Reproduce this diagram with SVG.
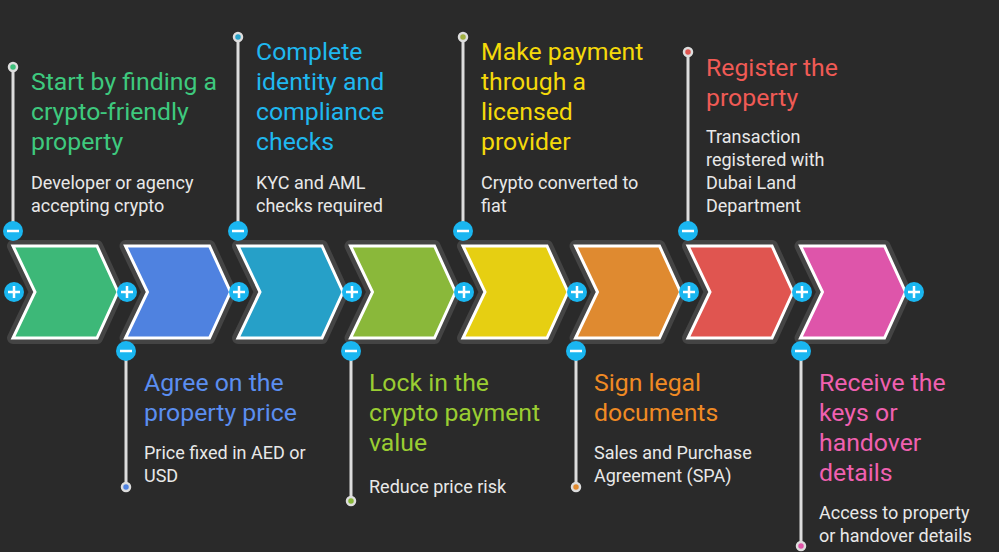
<svg xmlns="http://www.w3.org/2000/svg" width="999" height="552" viewBox="0 0 999 552">
<defs>
<style>
.t{font-family:Roboto,"Liberation Sans",sans-serif;font-size:24.8px;stroke:#2a2a2a;stroke-width:4px;paint-order:stroke;stroke-linejoin:round}
.d{font-family:Roboto,"Liberation Sans",sans-serif;font-size:18px;fill:#e8e8e8;stroke:#2a2a2a;stroke-width:3px;paint-order:stroke}
.ch{stroke:#fff;stroke-width:3;stroke-linejoin:miter}
.halo{fill:none;stroke:#444;stroke-width:12;stroke-linejoin:round}
.vl{stroke:#ddd;stroke-width:3}
.btn{fill:#1ab6f0}
.sym{stroke:#fff;stroke-width:2.5}
.dot{stroke:#ddd;stroke-width:2.5}
</style>
<symbol id="chev" overflow="visible"><path d="M0,0 H84 L105,46 L84,92 H0 L22,46 Z"/></symbol>
</defs>
<rect width="999" height="552" fill="#2a2a2a"/>
<g id="connectors">
<line class="vl" x1="13" y1="67" x2="13" y2="231"/>
<line class="vl" x1="238" y1="37" x2="238" y2="231"/>
<line class="vl" x1="463" y1="37" x2="463" y2="231"/>
<line class="vl" x1="688" y1="52" x2="688" y2="231"/>
<line class="vl" x1="126" y1="351" x2="126" y2="487"/>
<line class="vl" x1="351" y1="351" x2="351" y2="501"/>
<line class="vl" x1="576" y1="351" x2="576" y2="487"/>
<line class="vl" x1="801" y1="351" x2="801" y2="546"/>
<g class="dot">
<circle cx="13" cy="67" r="4" fill="#3dbf7a"/>
<circle cx="238" cy="37" r="4" fill="#29a3c9"/>
<circle cx="463" cy="37" r="4" fill="#a0b040"/>
<circle cx="688" cy="52" r="4" fill="#e05550"/>
<circle cx="126" cy="487" r="4" fill="#4f82e0"/>
<circle cx="351" cy="501" r="4" fill="#8ab83a"/>
<circle cx="576" cy="487" r="4" fill="#e08a30"/>
<circle cx="801" cy="546" r="4" fill="#e055a8"/>
</g>
</g>
<g id="chevrons">
<path class="halo" d="M13,246 H97 L118,292 L97,338 H13 L35,292 Z"/>
<path class="halo" d="M125.5,246 H209.5 L230.5,292 L209.5,338 H125.5 L147.5,292 Z"/>
<path class="halo" d="M238,246 H322 L343,292 L322,338 H238 L260,292 Z"/>
<path class="halo" d="M350.5,246 H434.5 L455.5,292 L434.5,338 H350.5 L372.5,292 Z"/>
<path class="halo" d="M463,246 H547 L568,292 L547,338 H463 L485,292 Z"/>
<path class="halo" d="M575.5,246 H659.5 L680.5,292 L659.5,338 H575.5 L597.5,292 Z"/>
<path class="halo" d="M688,246 H772 L793,292 L772,338 H688 L710,292 Z"/>
<path class="halo" d="M800.5,246 H884.5 L905.5,292 L884.5,338 H800.5 L822.5,292 Z"/>
</g>
<g id="n1"><use href="#chev" x="13" y="246" class="ch" fill="#3db878"/>
<text class="t" fill="#3ec97e"><tspan x="31" y="90">Start by finding a</tspan><tspan x="31" y="120">crypto-friendly</tspan><tspan x="31" y="150">property</tspan></text>
<text class="d"><tspan x="31" y="189">Developer or agency</tspan><tspan x="31" y="212">accepting crypto</tspan></text></g>
<g id="n2"><use href="#chev" x="125.5" y="246" class="ch" fill="#4f82e0"/>
<text class="t" fill="#5b8ef0"><tspan x="144" y="391">Agree on the</tspan><tspan x="144" y="421">property price</tspan></text>
<text class="d"><tspan x="144" y="459">Price fixed in AED or</tspan><tspan x="144" y="482">USD</tspan></text></g>
<g id="n3"><use href="#chev" x="238" y="246" class="ch" fill="#26a0c8"/>
<text class="t" fill="#1fb8f0"><tspan x="256" y="60">Complete</tspan><tspan x="256" y="90">identity and</tspan><tspan x="256" y="120">compliance</tspan><tspan x="256" y="150">checks</tspan></text>
<text class="d"><tspan x="256" y="189">KYC and AML</tspan><tspan x="256" y="212">checks required</tspan></text></g>
<g id="n4"><use href="#chev" x="350.5" y="246" class="ch" fill="#8ab83a"/>
<text class="t" fill="#9acd32"><tspan x="369" y="391">Lock in the</tspan><tspan x="369" y="421">crypto payment</tspan><tspan x="369" y="451">value</tspan></text>
<text class="d"><tspan x="369" y="493">Reduce price risk</tspan></text></g>
<g id="n5"><use href="#chev" x="463" y="246" class="ch" fill="#e6cf12"/>
<text class="t" fill="#f5d90a"><tspan x="481" y="60">Make payment</tspan><tspan x="481" y="90">through a</tspan><tspan x="481" y="120">licensed</tspan><tspan x="481" y="150">provider</tspan></text>
<text class="d"><tspan x="481" y="189">Crypto converted to</tspan><tspan x="481" y="212">fiat</tspan></text></g>
<g id="n6"><use href="#chev" x="575.5" y="246" class="ch" fill="#df8a30"/>
<text class="t" fill="#f08a24"><tspan x="594" y="391">Sign legal</tspan><tspan x="594" y="421">documents</tspan></text>
<text class="d"><tspan x="594" y="459">Sales and Purchase</tspan><tspan x="594" y="482">Agreement (SPA)</tspan></text></g>
<g id="n7"><use href="#chev" x="688" y="246" class="ch" fill="#e05550"/>
<text class="t" fill="#f05a55"><tspan x="706" y="76">Register the</tspan><tspan x="706" y="106">property</tspan></text>
<text class="d"><tspan x="706" y="143">Transaction</tspan><tspan x="706" y="166">registered with</tspan><tspan x="706" y="189">Dubai Land</tspan><tspan x="706" y="212">Department</tspan></text></g>
<g id="n8"><use href="#chev" x="800.5" y="246" class="ch" fill="#de55aa"/>
<text class="t" fill="#f060b0"><tspan x="819" y="391">Receive the</tspan><tspan x="819" y="421">keys or</tspan><tspan x="819" y="451">handover</tspan><tspan x="819" y="481">details</tspan></text>
<text class="d"><tspan x="819" y="519">Access to property</tspan><tspan x="819" y="542">or handover details</tspan></text></g>
<g id="buttons">
<g class="btn">
<circle cx="14" cy="292" r="10"/><circle cx="127" cy="292" r="10"/><circle cx="239" cy="292" r="10"/><circle cx="352" cy="292" r="10"/><circle cx="464" cy="292" r="10"/><circle cx="577" cy="292" r="10"/><circle cx="689" cy="292" r="10"/><circle cx="802" cy="292" r="10"/><circle cx="914" cy="292" r="10"/>
<circle cx="13" cy="231" r="10"/><circle cx="238" cy="231" r="10"/><circle cx="463" cy="231" r="10"/><circle cx="688" cy="231" r="10"/>
<circle cx="126" cy="351" r="10"/><circle cx="351" cy="351" r="10"/><circle cx="576" cy="351" r="10"/><circle cx="801" cy="351" r="10"/>
</g>
<path class="sym" d="M8,292h12M14,286v12M121,292h12M127,286v12M233,292h12M239,286v12M346,292h12M352,286v12M458,292h12M464,286v12M571,292h12M577,286v12M683,292h12M689,286v12M796,292h12M802,286v12M908,292h12M914,286v12M7,231h12M232,231h12M457,231h12M682,231h12M120,351h12M345,351h12M570,351h12M795,351h12"/>
</g>
</svg>
